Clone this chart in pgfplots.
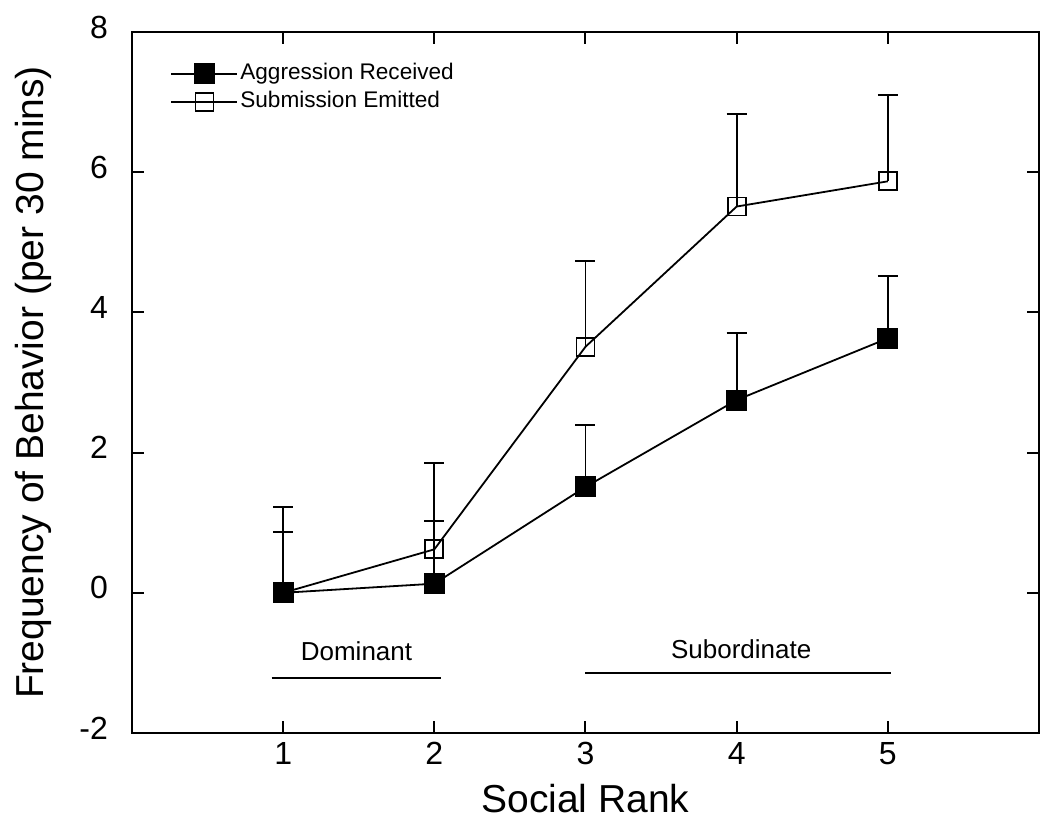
\documentclass[border=0pt]{standalone}
\usepackage{pgfplots}
\pgfplotsset{compat=1.18}
\usepackage{fontspec}
\setmainfont{Liberation Sans}
\begin{document}
\begin{tikzpicture}
\useasboundingbox (-66pt,-48pt) rectangle (459pt,366.5pt);
\begin{axis}[
  at={(0,0)}, anchor=south west,
  scale only axis, width=453.5pt, height=350.5pt,
  xmin=0, xmax=6, ymin=-2, ymax=8,
  xtick={1,2,3,4,5}, xticklabels={1,2,3,4,5},
  ytick={-2,0,2,4,6,8}, yticklabels={-2,0,2,4,6,8},
  tick align=inside, major tick length=6pt,
  tick style={line width=1pt, black},
  axis line style={line width=1.2pt},
  ticklabel style={font=\fontsize{16}{16}\selectfont},
  yticklabel style={xshift=-8.5pt, yshift=2.5pt},
  xticklabel style={yshift=-1pt},
  xlabel={Social Rank}, ylabel={Frequency of Behavior (per 30 mins)},
  label style={font=\fontsize{19.5}{20}\selectfont},
  xlabel style={at={(axis description cs:0.5,-0.094)}, anchor=center},
  ylabel style={at={(axis description cs:-0.1092,0.5)}, anchor=center},
  legend cell align=left,
  legend style={draw=none, fill=none, at={(axis description cs:0.042,0.961)}, anchor=north west,
    font=\fontsize{11.3}{12}\selectfont, inner sep=0pt, row sep=0pt,
    nodes={inner sep=1pt, text height=9pt, text depth=3pt}},
  legend image code/.code={\draw[mark repeat=2,mark phase=2,#1] plot coordinates {(0pt,0pt) (16.5pt,0pt) (33pt,0pt)};},
]
% Submission Emitted (drawn first, legend added later)
\addplot[black, line width=0.9pt, mark=square, mark size=4.5pt, mark options={solid, line width=0.9pt}, forget plot,
  error bars/.cd, y dir=plus, y explicit,
  error bar style={line width=0.9pt},
  error mark options={rotate=90, mark size=5pt, line width=1pt}]
  coordinates {
  (1,0) +- (0,1.23)
  (2,0.62) +- (0,1.23)
  (3,3.51) +- (0,1.23)
  (4,5.51) +- (0,1.32)
  (5,5.87) +- (0,1.23)
};
% Aggression Received
\addplot[black, line width=0.9pt, mark=square*, mark size=5pt, mark options={solid, line width=0.5pt, fill=black},
  error bars/.cd, y dir=plus, y explicit,
  error bar style={line width=0.9pt},
  error mark options={rotate=90, mark size=5pt, line width=1pt}]
  coordinates {
  (1,0) +- (0,0.87)
  (2,0.13) +- (0,0.90)
  (3,1.51) +- (0,0.88)
  (4,2.75) +- (0,0.96)
  (5,3.63) +- (0,0.89)
};
\addlegendentry{Aggression Received}
\addlegendimage{black, line width=0.9pt, mark=square, mark size=4.5pt, mark options={solid, line width=0.9pt}}
\addlegendentry{Submission Emitted}
\node[font=\fontsize{13}{14}\selectfont] at (axis cs:1.485,-0.83) {Dominant};
\draw[line width=0.9pt] (axis cs:0.924,-1.21) -- (axis cs:2.046,-1.21);
\node[font=\fontsize{13}{14}\selectfont] at (axis cs:4.03,-0.81) {Subordinate};
\draw[line width=0.9pt] (axis cs:3.0,-1.14) -- (axis cs:5.02,-1.14);
\end{axis}
\end{tikzpicture}
\end{document}
